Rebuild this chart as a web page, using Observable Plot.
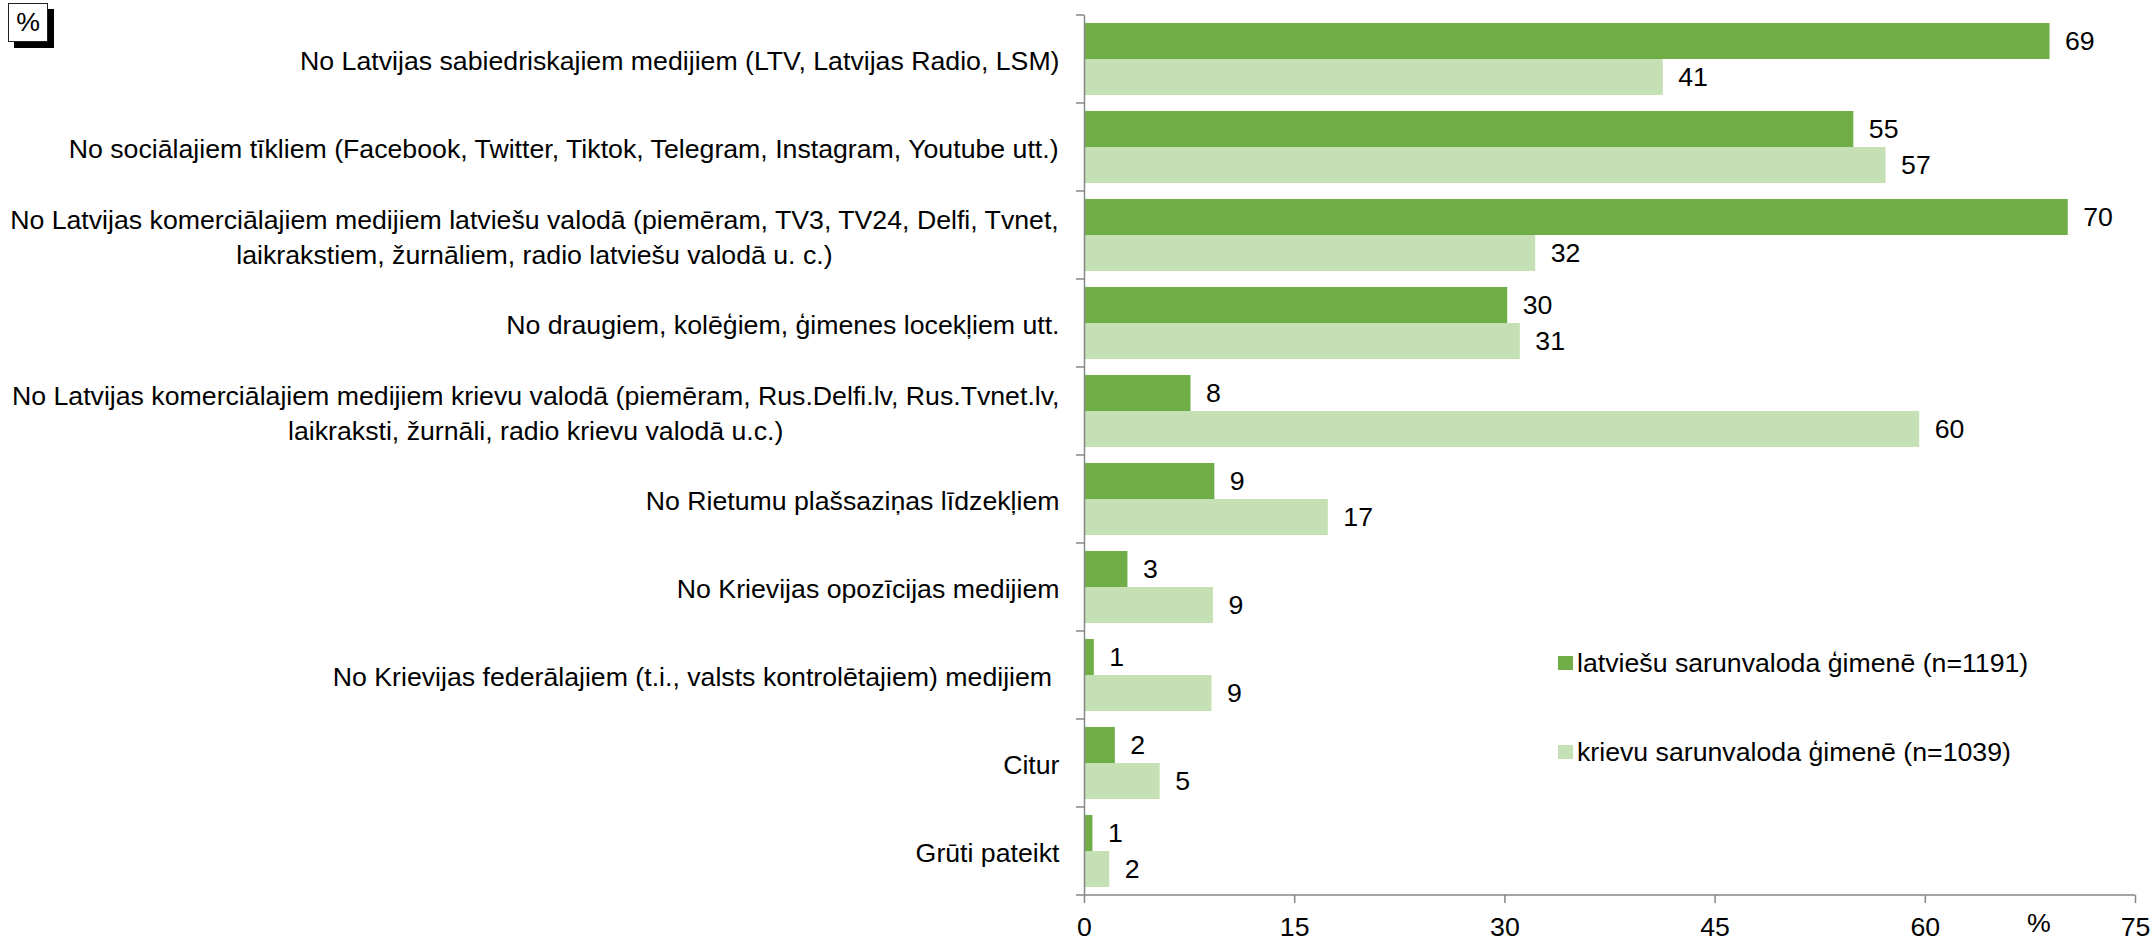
<!DOCTYPE html>
<html>
<head>
<meta charset="utf-8">
<script src="https://cdn.jsdelivr.net/npm/d3@7"></script>
<script src="https://cdn.jsdelivr.net/npm/@observablehq/plot@0.6"></script>
<style>
  html, body { margin: 0; padding: 0; background: #fff; }
  body { font-family: "Liberation Sans", Arial, sans-serif; color: #000; }
  #wrap { position: relative; width: 2154px; height: 942px; overflow: hidden; }
  #wrap svg { position: absolute; left: 0; top: 0; }
  .pctbox { position: absolute; left: 8px; top: 3px; width: 38px; height: 37px; border: 1.5px solid #222;
            background: #fff; box-shadow: 6px 6px 0 #000; font-size: 26.7px; line-height: 37px; text-align: center; }
  .xunit { position: absolute; left: 2027px; top: 913px; font-size: 26.7px; line-height: 20px; }
  .legend { position: absolute; left: 1558px; font-size: 26.7px; line-height: 30px; display: flex; align-items: center; white-space: nowrap; }
  .legend .sw { width: 15px; height: 14px; margin-right: 4px; }
</style>
</head>
<body>
<div id="wrap"></div>
<script>
const categories = [
  "No Latvijas sabiedriskajiem medijiem (LTV, Latvijas Radio, LSM)",
  "No sociālajiem tīkliem (Facebook, Twitter, Tiktok, Telegram, Instagram, Youtube utt.)",
  "No Latvijas komerciālajiem medijiem latviešu valodā (piemēram, TV3, TV24, Delfi, Tvnet,\nlaikrakstiem, žurnāliem, radio latviešu valodā u. c.)",
  "No draugiem, kolēģiem, ģimenes locekļiem utt.",
  "No Latvijas komerciālajiem medijiem krievu valodā (piemēram, Rus.Delfi.lv, Rus.Tvnet.lv,\nlaikraksti, žurnāli, radio krievu valodā u.c.)",
  "No Rietumu plašsaziņas līdzekļiem",
  "No Krievijas opozīcijas medijiem",
  "No Krievijas federālajiem (t.i., valsts kontrolētajiem) medijiem ",
  "Citur",
  "Grūti pateikt"
];
const seriesNames = ["latviešu sarunvaloda ģimenē (n=1191)", "krievu sarunvaloda ģimenē (n=1039)"];
const latvianValues = [68.9, 54.9, 70.2, 30.2, 7.6, 9.3, 3.1, 0.7, 2.2, 0.6];
const russianValues = [41.3, 57.2, 32.2, 31.1, 59.6, 17.4, 9.2, 9.1, 5.4, 1.8];
const latvianLabels = ["69", "55", "70", "30", "8", "9", "3", "1", "2", "1"];
const russianLabels = ["41", "57", "32", "31", "60", "17", "9", "9", "5", "2"];
const xTicks = [0, 15, 30, 45, 60, 75];
const colors = ["#70AD47", "#C5E0B4"];
const unitLabel = "%";

const AXIS = "#868686";
const FONT = 26.7;

const rows = [];
categories.forEach((c, i) => {
  rows.push({cat: c, series: seriesNames[0], value: latvianValues[i], label: latvianLabels[i]});
  rows.push({cat: c, series: seriesNames[1], value: russianValues[i], label: russianLabels[i]});
});

// measure longest line of each category label to centre multi-line labels
const ctx = document.createElement("canvas").getContext("2d");
ctx.font = `${FONT}px "Liberation Sans", Arial, sans-serif`;
const GAP = 25;
const labelMarks = categories.map(c => {
  const w = d3.max(c.split("\n"), l => ctx.measureText(l).width);
  return Plot.text([c], {
    fy: d => d, text: d => d, frameAnchor: "left", textAnchor: "middle",
    dx: -(GAP + w / 2), lineHeight: 1.28, fontSize: FONT, fill: "#000"
  });
});

const chart = Plot.plot({
  width: 2154,
  height: 942,
  marginLeft: 1084,
  marginRight: 19,
  marginTop: 12,
  marginBottom: 44.5,
  style: {fontFamily: '"Liberation Sans", Arial, sans-serif', fontSize: FONT + "px", color: "#000", background: "transparent"},
  fy: {domain: categories, padding: 0, axis: null, label: null},
  y: {domain: seriesNames, paddingInner: 0, paddingOuter: 0.19, axis: null, label: null},
  x: {domain: [0, 75], ticks: xTicks, tickSize: 8, tickPadding: 14, label: null, tickFormat: d => String(d)},
  color: {domain: seriesNames, range: colors},
  marks: [
    Plot.barX(rows, {fy: "cat", y: "series", x: "value", fill: "series"}),
    Plot.ruleX([0], {stroke: AXIS, strokeWidth: 1.5}),
    Plot.text(rows, {fy: "cat", y: "series", x: "value", text: "label", textAnchor: "start", dx: 15, fontSize: FONT, fill: "#000"}),
    ...labelMarks
  ]
});

const wrap = document.getElementById("wrap");
wrap.appendChild(chart);

// axis lines and category boundary ticks, positioned with the plot's own scales
const svg = d3.select(chart.tagName.toLowerCase() === "svg" ? chart : chart.querySelector("svg"));
svg.selectAll("[aria-label='x-axis tick'] path, [aria-label='x-axis tick'], g[aria-label='x-axis'] line")
   .attr("stroke", AXIS).attr("stroke-width", 1.5);
const fy = chart.scale("fy"), xs = chart.scale("x");
const x0 = xs.apply(0), x75 = xs.apply(75);
const g = svg.append("g").attr("stroke", AXIS).attr("stroke-width", 1.5).attr("fill", "none");
categories.forEach(c => {
  const y = fy.apply(c);
  g.append("line").attr("x1", x0 - 8).attr("x2", x0).attr("y1", y).attr("y2", y);
});
const yb = fy.apply(categories[categories.length - 1]) + fy.bandwidth;
g.append("line").attr("x1", x0 - 8).attr("x2", x75).attr("y1", yb).attr("y2", yb);

// "%" boxes and legend
const box = document.createElement("div");
box.className = "pctbox"; box.textContent = unitLabel; wrap.appendChild(box);
const xu = document.createElement("div");
xu.className = "xunit"; xu.textContent = unitLabel; wrap.appendChild(xu);
const legendTops = [648, 737];
seriesNames.forEach((s, i) => {
  const d = document.createElement("div");
  d.className = "legend";
  d.style.top = legendTops[i] + "px";
  const sw = document.createElement("div");
  sw.className = "sw"; sw.style.background = colors[i];
  const t = document.createElement("span"); t.textContent = s;
  d.appendChild(sw); d.appendChild(t);
  wrap.appendChild(d);
});
</script>
</body>
</html>
